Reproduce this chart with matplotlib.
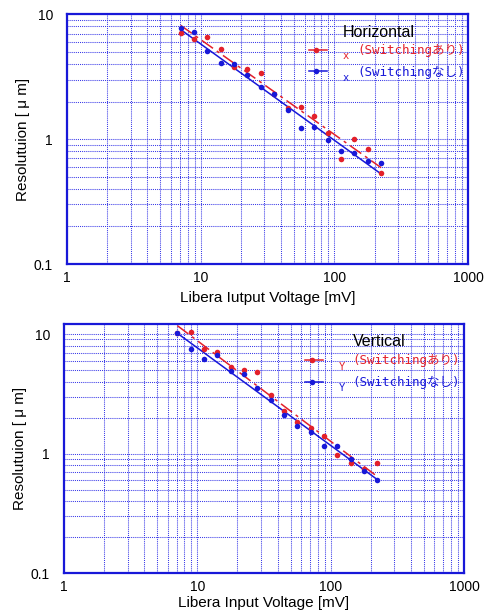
import numpy as np
import matplotlib.pyplot as plt
from matplotlib.ticker import LogLocator, NullFormatter, FuncFormatter

# 入力電圧 [mV]
voltage = [7.08, 8.91, 11.2, 14.1, 17.8, 22.4, 28.2, 35.5, 44.7, 56.2,
           70.8, 89.1, 112, 141, 178, 224]

# 水平方向の分解能 [um]
hor_sw_on = [7.09, 6.35, 6.63, 5.28, 3.77, 3.63, 3.40, 2.28, 1.79, 1.81,
             1.53, 1.13, 0.69, 1.01, 0.83, 0.54]
hor_sw_off = [7.82, 7.18, 5.09, 4.06, 4.03, 3.25, 2.62, 2.28, 1.70, 1.22,
              1.25, 0.99, 0.80, 0.77, 0.67, 0.65]

# 垂直方向の分解能 [um]
ver_sw_on = [10.2, 10.3, 7.46, 7.08, 5.27, 5.01, 4.82, 3.10, 2.26, 1.85,
             1.65, 1.41, 0.98, 0.83, 0.745, 0.83]
ver_sw_off = [10.1, 7.50, 6.15, 6.73, 4.91, 4.61, 3.52, 2.83, 2.12, 1.71,
              1.53, 1.16, 1.16, 0.91, 0.72, 0.60]

RED = '#e3202a'
BLUE = '#1818d8'
GRID = '#3a3ae8'
MONO = ['DejaVu Sans Mono', 'Noto Sans CJK JP']

plt.rcParams['font.family'] = ['Liberation Sans', 'Noto Sans CJK JP', 'DejaVu Sans']

fig = plt.figure(figsize=(4.89, 6.13), dpi=100)


def fit_line(x, y):
    # べき乗則フィット (log-log で一次式)
    k, b = np.polyfit(np.log10(x), np.log10(y), 1)
    xs = np.array([min(x), max(x)])
    return xs, 10 ** (b + k * np.log10(xs))


def draw_panel(rect, ylim, on, off, title, sub, xlabel, xpad, pos):
    ax = fig.add_axes(rect)
    ax.set_xscale('log')
    ax.set_yscale('log')
    ax.set_xlim(1, 1000)
    ax.set_ylim(*ylim)

    ax.xaxis.set_major_locator(LogLocator(base=10))
    ax.yaxis.set_major_locator(LogLocator(base=10))
    ax.xaxis.set_minor_locator(LogLocator(base=10, subs=np.arange(2, 10)))
    ax.yaxis.set_minor_locator(LogLocator(base=10, subs=np.arange(2, 10)))
    ax.xaxis.set_minor_formatter(NullFormatter())
    ax.yaxis.set_minor_formatter(NullFormatter())
    ax.xaxis.set_major_formatter(FuncFormatter(lambda v, p: '%g' % v))
    ax.yaxis.set_major_formatter(FuncFormatter(lambda v, p: '%g' % v))
    ax.tick_params(which='both', length=0, labelsize=10)
    ax.tick_params(axis='x', pad=5)
    ax.tick_params(axis='y', pad=10)

    ax.grid(True, which='both', color=GRID, linestyle=(0, (1, 1)), linewidth=0.75)
    for s in ax.spines.values():
        s.set_color(BLUE)
        s.set_linewidth(1.6)

    # フィット直線
    xs, ys = fit_line(voltage, on)
    ax.plot(xs, ys, color=RED, lw=1.1, linestyle=(0, (9, 3, 2, 3)))
    xs, ys = fit_line(voltage, off)
    ax.plot(xs, ys, color=BLUE, lw=1.1)

    ax.plot(voltage, on, 'o', color=RED, ms=4.0, mec='none')
    ax.plot(voltage, off, 'o', color=BLUE, ms=4.0, mec='none')

    ax.set_xlabel(xlabel, fontsize=11, labelpad=xpad)
    ax.set_ylabel('Resolutuion [ μ m]', fontsize=11, labelpad=3)

    # 凡例 (手書き風)
    tx, ty, red_y, blue_y = pos
    ax.text(tx, ty, title, transform=ax.transAxes, fontsize=11.5,
            va='center', ha='left')
    for yy, col, lab in [(red_y, RED, '(Switchingあり)'),
                         (blue_y, BLUE, '(Switchingなし)')]:
        ax.plot([0.603, 0.648], [yy, yy], color=col, lw=1.1,
                transform=ax.transAxes, clip_on=False)
        ax.plot([0.620], [yy], 'o', color=col, ms=4.0, mec='none',
                transform=ax.transAxes, clip_on=False)
        ax.text(0.695, yy - 0.027, sub, transform=ax.transAxes, color=col,
                fontsize=7.5, ha='center', va='center', family=MONO)
        ax.text(tx + 0.035 if tx < 0.7 else tx, yy - 0.004, lab,
                transform=ax.transAxes, color=col, fontsize=9,
                ha='left', va='center', family=MONO)
    return ax


draw_panel([0.137, 0.5693, 0.820, 0.4074], (0.1, 10),
           hor_sw_on, hor_sw_off, 'Horizontal', 'x',
           'Libera Iutput Voltage [mV]', 4, (0.688, 0.926, 0.858, 0.772))
draw_panel([0.1309, 0.0648, 0.818, 0.4062], (0.1, 12.06),
           ver_sw_on, ver_sw_off, 'Vertical', 'Y',
           'Libera Input Voltage [mV]', 1, (0.722, 0.930, 0.857, 0.770))

fig.savefig('out.png', dpi=100)
